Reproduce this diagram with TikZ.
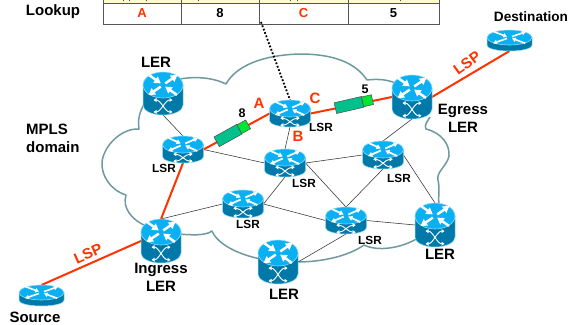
\documentclass[tikz,border=0pt]{standalone}
\usepackage{fontspec}
\setmainfont{Liberation Sans}
\usetikzlibrary{arrows.meta}
\definecolor{lspred}{HTML}{FF3300}
\definecolor{cloudc}{HTML}{6E9A9F}
\definecolor{rbody}{HTML}{0078A8}
\definecolor{rtop}{HTML}{0AB0F2}
\definecolor{rglow}{HTML}{8FDCF5}
\definecolor{pteal}{HTML}{00C08C}
\definecolor{pgreen}{HTML}{00E632}
\definecolor{thead}{HTML}{FFFBC8}
\definecolor{tline}{HTML}{555555}
\tikzset{
  lbl/.style={font=\bfseries\fontsize{15}{15}\selectfont,inner sep=0pt,align=center},
  small/.style={font=\bfseries\fontsize{11.8}{12}\selectfont,inner sep=0pt},
  redl/.style={font=\bfseries\fontsize{15}{15}\selectfont,inner sep=0pt,text=lspred},
  num/.style={font=\bfseries\fontsize{12.5}{13}\selectfont,inner sep=0pt},
  cell/.style={draw=tline,line width=0.9pt,minimum height=21pt,inner sep=0pt,font=\bfseries\fontsize{13}{13}\selectfont},
  routerbox/.style 2 args={inner sep=0pt,outer sep=0pt,minimum width=#1,minimum height=#2},
  link/.style={draw=black!80,line width=0.55pt},
  lsp/.style={draw=lspred,line width=2pt},
  cloudline/.style={draw=cloudc,line width=1.5pt,line join=round},
}
% centre x, top y, half width, ellipse half height, body height, switch symbol (1/0)
\newcommand{\routericon}[6]{%
  \pgfmathsetmacro{\rk}{#4/13}%
  \pgfmathsetmacro{\rw}{#4*0.16+0.4}%
  \begin{scope}[shift={(#1,#2)},
    rarrow/.style={draw=white,line width=\rw pt,-{Triangle[length=6.5pt,width=7.5pt,scale=\rk]}},
    sarrow/.style={draw=white,line width=0.9pt,{Triangle[length=3pt,width=3.8pt]}-{Triangle[length=3pt,width=3.8pt]}}]
    \fill[rbody,draw=rglow,line width=0.5pt] (-#3,#4) -- (-#3,{#5-#4*0.75})
      arc[x radius=#3,y radius={#4*0.75},start angle=180,end angle=0] -- (#3,#4) -- cycle;
    \fill[rtop,draw=rglow,line width=0.6pt] (0,#4) ellipse[x radius=#3,y radius=#4];
    \begin{scope}[shift={(0,#4)},xscale=#3/20,yscale=#4/13]
      \draw[rarrow] (-14,-10) -- (-2.2,-1.6);
      \draw[rarrow] (14,10) -- (2.2,1.6);
      \draw[rarrow] (2.2,-1.6) -- (14.5,-10);
      \draw[rarrow] (-2.2,1.6) -- (-14.5,10);
    \end{scope}
    \ifnum#6=1
      \begin{scope}[shift={(0,{2*#4+(#5-2*#4)*0.47})},xscale=#3/20,yscale={(#5-2*#4)/17}]
        \draw[sarrow] (-9.5,-6) .. controls (-2,-6) and (2,6) .. (9.5,6);
        \draw[sarrow] (-9.5,6) .. controls (-2,6) and (2,-6) .. (9.5,-6);
      \end{scope}
    \fi
  \end{scope}}
% packet centre, angle
\newcommand{\packet}[5]{%
  \begin{scope}[shift={(#1,#2)},rotate=#3]
    \fill[pteal,draw=black!70,line width=0.5pt] (-#4,-5.5) rectangle (#4,5.5);
    \fill[pgreen,draw=black!70,line width=0.5pt] (#4,-5) rectangle ({#4+#5},5);
  \end{scope}}
\begin{document}
\begin{tikzpicture}[x=1pt,y=-1pt]
\useasboundingbox (0,0) rectangle (569,324);
\fill[white] (0,0) rectangle (569,324);

% table
\begin{scope}
  \clip (0,0) rectangle (569,324);
  \fill[thead] (103,-2) rectangle (439,3);
  \draw[draw=tline,line width=0.9pt] (103,3) -- (439,3);
  \foreach \xa in {103,181,259,348,439} \draw[draw=tline,line width=0.9pt] (\xa,0) -- (\xa,3);
  \foreach \xa in {123,129,146,198,290,297,400} \draw[black!70,line width=0.8pt] (\xa,0) -- (\xa,1.4);
\end{scope}
\node[cell,minimum width=78pt,text=lspred] (ca) at (142,13.5) {A};
\node[cell,minimum width=78pt] (c8) at (220,13.5) {8};
\node[cell,minimum width=89pt,text=lspred] (cc) at (303.5,13.5) {C};
\node[cell,minimum width=91pt] (c5) at (393.5,13.5) {5};

% cloud
\draw[cloudline] (180,79) .. controls (197,76) and (214,78) .. (226,84)
  .. controls (236,66) and (262,55) .. (300,54)
  .. controls (332,54) and (355,62) .. (367,80)
  .. controls (376,79) and (386,79) .. (395,83);
\draw[cloudline] (430,117) .. controls (427,122) and (424,125) .. (426,129)
  .. controls (442,133) and (450,145) .. (449,156)
  .. controls (447,166) and (436,172) .. (438,180)
  .. controls (440,188) and (438,196) .. (439,205);
\draw[cloudline] (418,238) .. controls (402,248) and (378,252) .. (364,245)
  .. controls (350,255) and (325,262) .. (296,262);
\draw[cloudline] (261,259) .. controls (240,255) and (218,245) .. (212,231)
  .. controls (205,236) and (192,235) .. (178,234);
\draw[cloudline] (146,226) .. controls (132,220) and (122,208) .. (126,195)
  .. controls (110,190) and (101,175) .. (102,162)
  .. controls (104,145) and (122,128) .. (139,129)
  .. controls (137,118) and (141,108) .. (147,100);

% router anchors (each node covers its icon)
\node[routerbox={40pt}{43pt}] (lerTL) at (163,93.5) {};
\node[routerbox={40pt}{44pt}] (egress) at (412,97) {};
\node[routerbox={40pt}{44pt}] (ingress) at (161,241) {};
\node[routerbox={40pt}{44pt}] (lerB) at (278,262) {};
\node[routerbox={40pt}{44pt}] (lerR) at (435,225) {};
\node[routerbox={41pt}{27pt}] (lsrL) at (183,149.5) {};
\node[routerbox={41pt}{27pt}] (lsrA) at (290,113.5) {};
\node[routerbox={41pt}{28pt}] (lsrB) at (285,163) {};
\node[routerbox={41pt}{28pt}] (lsrT) at (383,155) {};
\node[routerbox={41pt}{28pt}] (lsrM) at (243,204) {};
\node[routerbox={41pt}{27pt}] (lsrD) at (346,220.5) {};
\node[routerbox={45pt}{21pt}] (dest) at (509.5,40.5) {};
\node[routerbox={45pt}{21pt}] (src) at (41.5,295.5) {};

% connectors
\draw[link] (lerTL.south) -- (lsrL.north);
\draw[link] (lsrL.east) -- (lsrB.west);
\draw[link] (lsrA.south) -- (lsrB.north);
\draw[link] (lsrB.south) -- (lsrM.east);
\draw[link] (lsrB.east) -- (lsrD.north);
\draw[link] (lsrB.east) -- (lsrT.west);
\draw[link] (ingress.north) -- (lsrM.west);
\draw[link] (lsrM.east) -- (lsrD.west);
\draw[link] (lsrT.south) -- (lsrD.north);
\draw[link] (egress.south) -- (lsrT.north);
\draw[link] (lsrT.east) -- (lerR.north);
\draw[link] (lsrD.east) -- (lerR.west);
\draw[link] (lsrD.south) -- (lerB.east);
\draw[lsp] (src.north) -- (ingress.west);
\draw[lsp] (ingress.north) -- (lsrL.south);
\draw[lsp] (lsrL.east) -- (lsrA.west);
\draw[lsp] (lsrA.east) -- (egress.west);
\draw[lsp] (egress.east) -- (dest.south);
\coordinate (dotstart) at (261,22);
\draw[black,line width=1.8pt,dash pattern=on 1.8pt off 1.8pt] (dotstart) -- (lsrA.north);

% packets
\packet{228}{135.5}{29}{13}{10}
\packet{349}{105}{13}{14}{10}

% routers
\routericon{163}{72}{20}{13}{43}{1}
\routericon{412}{75}{20}{13}{44}{1}
\routericon{161}{219}{20}{13}{44}{1}
\routericon{278}{240}{20}{13}{44}{1}
\routericon{435}{203}{20}{13}{44}{1}
\routericon{183}{136}{20.5}{8.5}{27}{1}
\routericon{290}{100}{20.5}{8.5}{27}{1}
\routericon{285}{149}{20.5}{8.5}{28}{1}
\routericon{383}{141}{20.5}{8.5}{28}{1}
\routericon{243}{190}{20.5}{8.5}{28}{1}
\routericon{346}{207}{20.5}{8.5}{27}{1}
\routericon{509.5}{30}{22.5}{7.5}{21}{0}
\routericon{41.5}{285}{22.5}{7.5}{21}{0}

% labels
\node[lbl] (tLookup) at (53,12) {Lookup};
\node[lbl,align=left,anchor=west] (tMpls) at (26,138.5) {MPLS\\[3.5pt]domain};
\node[lbl] (tLerTL) at (156,62) {LER};
\node[lbl] (tEgress) at (463,118) {Egress\\[3pt]LER};
\node[lbl] (tIngress) at (161,277.5) {Ingress\\[3pt]LER};
\node[lbl] (tLerR) at (440,254) {LER};
\node[lbl] (tLerB) at (284,294) {LER};
\node[lbl] (tSource) at (35,317) {Source};
\node[lbl,font=\bfseries\fontsize{13.6}{14}\selectfont] (tDest) at (531,17) {Destination};
\node[small] (s1) at (164,168) {LSR};
\node[small] (s2) at (321,127) {LSR};
\node[small] (s3) at (304,183) {LSR};
\node[small] (s4) at (399,178) {LSR};
\node[small] (s5) at (248,224) {LSR};
\node[small] (s6) at (370,240) {LSR};
\node[redl] (rA) at (259,103) {A};
\node[redl] (rC) at (315,98) {C};
\node[redl] (rB) at (298,136) {B};
\node[num] (n8) at (242,113) {8};
\node[num] (n5) at (365,89) {5};
\node[redl,rotate=24] (lspL) at (88,254) {LSP};
\node[redl,rotate=36] (lspR) at (467,63) {LSP};
\end{tikzpicture}
\end{document}
